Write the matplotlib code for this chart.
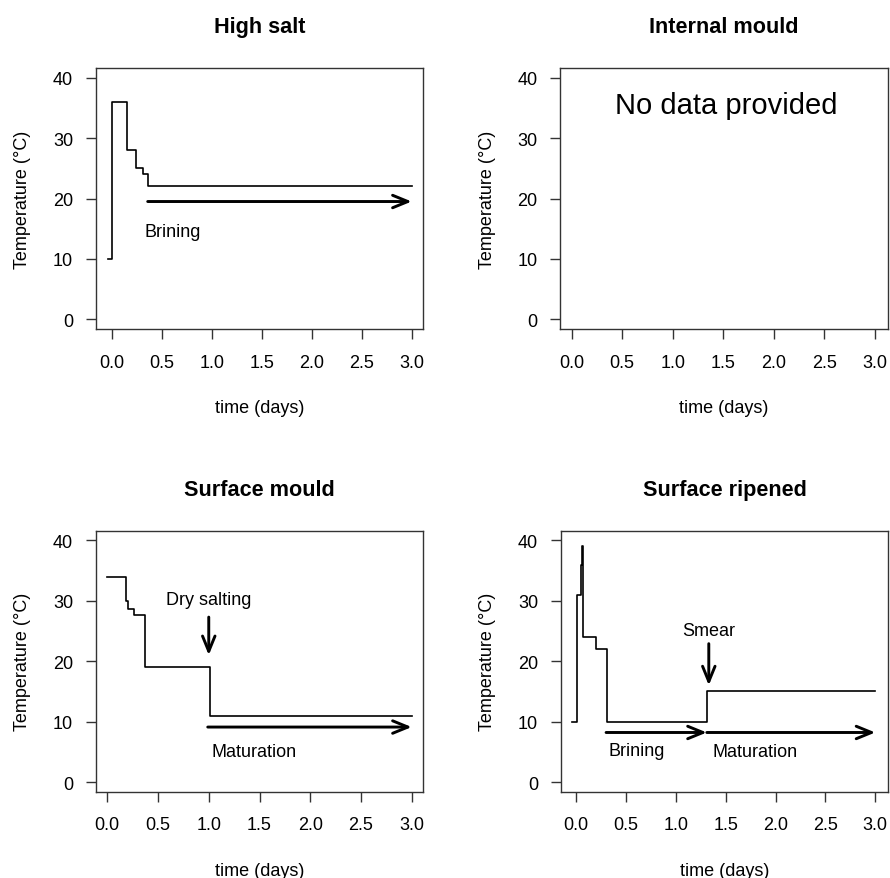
import matplotlib
matplotlib.use("Agg")
import matplotlib.pyplot as plt

plt.rcParams['font.family'] = ['Liberation Sans', 'DejaVu Sans']

# ---- data ----
titles = ["High salt", "Internal mould", "Surface mould", "Surface ripened"]
xticks = [0.0, 0.5, 1.0, 1.5, 2.0, 2.5, 3.0]
xticklabels = ["0.0", "0.5", "1.0", "1.5", "2.0", "2.5", "3.0"]
yticks = [0, 10, 20, 30, 40]

hs_time = [-0.04, 0.0, 0.15, 0.24, 0.31, 0.36, 3.0]
hs_temp = [10, 36, 28, 25, 24, 22, 22]

sm_time = [0.0, 0.18, 0.20, 0.26, 0.37, 1.01, 3.0]
sm_temp = [34, 30, 28.6, 27.7, 19, 11, 11]

sr_time = [-0.043, 0.007, 0.047, 0.063, 0.073, 0.198, 0.314, 1.311, 3.0]
sr_temp = [10, 31, 36, 39, 24, 22, 10, 15, 15]

# phase arrows: (x_start, x_end, y)
hs_phases = [(0.36, 3.0, 19.5)]
hs_labels = [("Brining", 0.33, 14.5)]
sm_phases = [(0.99, 3.0, 9.1)]
sm_labels = [("Maturation", 1.03, 5.1)]
sr_phases = [(0.30, 1.31, 8.2), (1.31, 3.0, 8.2)]
sr_labels = [("Brining", 0.32, 5.2), ("Maturation", 1.37, 5.1)]
# event arrows: (text, x, y_text, y_start, y_end)
sm_event = ("Dry salting", 1.0, 30.2, 27.3, 21.0)
sr_event = ("Smear", 1.33, 25.1, 22.9, 16.0)

W, H = 890, 879
fig = plt.figure(figsize=(W / 100, H / 100), dpi=100)

boxes = [
    (95.7, 69, 423.3, 330, (-0.16, 3.116)),
    (560.0, 69, 887.7, 330, (-0.116, 3.13)),
    (95.7, 531.7, 423.3, 792.7, (-0.114, 3.114)),
    (560.7, 531.7, 888.3, 792.7, (-0.155, 3.13)),
]
FS = 13
axes = []
for (l, t, r, b, xl), title in zip(boxes, titles):
    ax = fig.add_axes([l / W, 1 - b / H, (r - l) / W, (b - t) / H])
    ax.set_xlim(*xl)
    ax.set_ylim(-1.6, 41.6)
    ax.set_xticks(xticks)
    ax.set_xticklabels(xticklabels)
    ax.set_yticks(yticks)
    ax.tick_params(direction='out', length=7.3, width=1.0, labelsize=FS, pad=9,
                   color='#333333')
    ax.tick_params(axis='x', pad=10.5)
    for s in ax.spines.values():
        s.set_linewidth(1.0)
        s.set_color('#333333')
    ax.set_title(title, fontsize=15.6, fontweight='bold', pad=26)
    ax.set_xlabel("time (days)", fontsize=FS)
    ax.set_ylabel("Temperature (°C)", fontsize=FS)
    ax.xaxis.set_label_coords(0.5, -0.27)
    ax.yaxis.set_label_coords(-0.196, 0.5)
    axes.append(ax)

LW = 1.2
AW = 2.1
aprops = dict(arrowstyle='->,head_length=1.1,head_width=0.45', lw=AW, color='black',
              shrinkA=0, shrinkB=0, mutation_scale=10)


def phases(ax, ph, labs):
    for x0, x1, y in ph:
        ax.annotate('', xy=(x1, y), xytext=(x0, y), arrowprops=aprops)
    for txt, x, y in labs:
        ax.text(x, y, txt, fontsize=FS, ha='left', va='center')


def event(ax, ev):
    txt, x, yt, y0, y1 = ev
    ax.text(x, yt, txt, fontsize=FS, ha='center', va='center')
    ax.annotate('', xy=(x, y1), xytext=(x, y0), arrowprops=aprops)


ax = axes[0]
ax.step(hs_time, hs_temp, where='post', color='black', lw=LW)
phases(ax, hs_phases, hs_labels)

ax = axes[1]
ax.text(1.53, 35.4, "No data provided", fontsize=21, ha='center', va='center')

ax = axes[2]
ax.step(sm_time, sm_temp, where='post', color='black', lw=LW)
phases(ax, sm_phases, sm_labels)
event(ax, sm_event)

ax = axes[3]
ax.step(sr_time, sr_temp, where='post', color='black', lw=LW)
phases(ax, sr_phases, sr_labels)
event(ax, sr_event)

fig.savefig("out.png", dpi=100)
